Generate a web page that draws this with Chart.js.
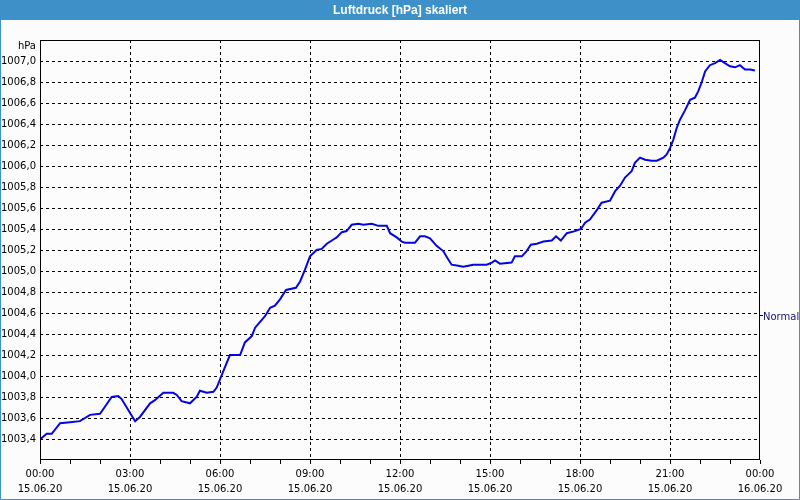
<!DOCTYPE html>
<html><head><meta charset="utf-8">
<script src="https://cdn.jsdelivr.net/npm/chart.js@4.4.0/dist/chart.umd.min.js"></script>
<style>html,body{margin:0;padding:0;background:#fbfcfb;}#wrap{width:800px;height:500px;position:relative}</style>
</head><body><div id="wrap"><canvas id="c" width="800" height="500"></canvas></div>
<script>
const chartTitle = 'Luftdruck [hPa] skaliert';
const unitLabel = 'hPa';
const seriesName = 'Normal';

const xTickHours = [0, 3, 6, 9, 12, 15, 18, 21, 24];
const xTickTimes = ['00:00', '03:00', '06:00', '09:00', '12:00', '15:00', '18:00', '21:00', '00:00'];
const xTickDates = ['15.06.20', '15.06.20', '15.06.20', '15.06.20', '15.06.20', '15.06.20', '15.06.20', '15.06.20', '16.06.20'];
const xMinorHours = [0,1,2,3,4,5,6,7,8,9,10,11,12,13,14,15,16,17,18,19,20,21,22,23,24];

const yTickValues = [1003.4, 1003.6, 1003.8, 1004.0, 1004.2, 1004.4, 1004.6, 1004.8, 1005.0, 1005.2, 1005.4, 1005.6, 1005.8, 1006.0, 1006.2, 1006.4, 1006.6, 1006.8, 1007.0];
const yTickLabels = ['1003,4', '1003,6', '1003,8', '1004,0', '1004,2', '1004,4', '1004,6', '1004,8', '1005,0', '1005,2', '1005,4', '1005,6', '1005,8', '1006,0', '1006,2', '1006,4', '1006,6', '1006,8', '1007,0'];

// time of day (hours since 00:00 15.06.20)
const hours = [
  0.0, 0.06, 0.22, 0.39, 0.67, 1.0, 1.33, 1.67, 2.0, 2.17, 2.39, 2.61, 2.72, 3.17, 3.33, 3.67, 3.83,
  4.11, 4.44, 4.56, 4.72, 5.0, 5.22, 5.33, 5.56, 5.78, 5.89, 6.06, 6.33, 6.67, 6.83, 7.06, 7.17, 7.5,
  7.67, 7.83, 8.0, 8.2, 8.53, 8.67, 8.83, 9.0, 9.22, 9.39, 9.56, 9.78, 9.89, 10.06, 10.22, 10.39, 10.61,
  10.78, 11.06, 11.28, 11.56, 11.67, 11.89, 12.06, 12.17, 12.5, 12.67, 12.83, 13.0, 13.22, 13.44, 13.61,
  13.72, 13.94, 14.11, 14.28, 14.44, 14.89, 15.06, 15.17, 15.33, 15.72, 15.83, 16.06, 16.22, 16.36,
  16.56, 16.78, 17.06, 17.2, 17.36, 17.56, 17.83, 18.03, 18.17, 18.33, 18.56, 18.72, 19.0, 19.17, 19.33,
  19.5, 19.61, 19.72, 19.83, 20.0, 20.17, 20.39, 20.56, 20.78, 20.89, 21.0, 21.11, 21.22, 21.33, 21.5,
  21.67, 21.83, 21.94, 22.06, 22.17, 22.33, 22.5, 22.67, 22.83, 23.0, 23.17, 23.33, 23.5, 23.67, 23.83
];
const pressure = [
  1003.40, 1003.41, 1003.45, 1003.45, 1003.55, 1003.56, 1003.57, 1003.63, 1003.64, 1003.71, 1003.80, 1003.81, 1003.78, 1003.57, 1003.61, 1003.74, 1003.77,
  1003.84, 1003.84, 1003.82, 1003.76, 1003.74, 1003.80, 1003.86, 1003.84, 1003.85, 1003.89, 1004.01, 1004.20, 1004.20, 1004.32, 1004.38, 1004.46, 1004.57,
  1004.65, 1004.67, 1004.73, 1004.82, 1004.84, 1004.90, 1005.01, 1005.14, 1005.20, 1005.21, 1005.26, 1005.30, 1005.32, 1005.37, 1005.38, 1005.44, 1005.45,
  1005.44, 1005.45, 1005.43, 1005.43, 1005.36, 1005.32, 1005.28, 1005.27, 1005.27, 1005.33, 1005.33, 1005.31, 1005.24, 1005.19, 1005.11,
  1005.06, 1005.05, 1005.04, 1005.05, 1005.06, 1005.06, 1005.08, 1005.10, 1005.07, 1005.08, 1005.14, 1005.14, 1005.19, 1005.25,
  1005.26, 1005.28, 1005.29, 1005.33, 1005.29, 1005.36, 1005.38, 1005.40, 1005.46, 1005.49, 1005.58, 1005.65, 1005.67, 1005.76, 1005.81,
  1005.89, 1005.92, 1005.95, 1006.03, 1006.08, 1006.06, 1006.05, 1006.05, 1006.08, 1006.11, 1006.17, 1006.25, 1006.36, 1006.44, 1006.53,
  1006.63, 1006.65, 1006.71, 1006.80, 1006.90, 1006.96, 1006.98, 1007.01, 1006.98, 1006.95, 1006.94, 1006.96, 1006.92, 1006.92, 1006.91
];

const FONT = 'DejaVu Sans';
const frameBlue = '#3d91c8';

const decor = {
  id: 'decor',
  beforeDraw(chart) {
    const ctx = chart.ctx;
    ctx.save();
    ctx.fillStyle = '#fbfcfb';
    ctx.fillRect(0, 0, chart.width, chart.height);
    ctx.fillStyle = frameBlue;
    ctx.fillRect(0, 0, chart.width, 20);
    ctx.strokeStyle = frameBlue;
    ctx.lineWidth = 1;
    ctx.beginPath();
    ctx.moveTo(0.5, 20); ctx.lineTo(0.5, chart.height - 0.5);
    ctx.lineTo(chart.width - 0.5, chart.height - 0.5); ctx.lineTo(chart.width - 0.5, 20);
    ctx.stroke();
    ctx.fillStyle = '#ffffff';
    ctx.font = 'bold 12px "Liberation Sans"';
    ctx.textAlign = 'center';
    ctx.textBaseline = 'middle';
    ctx.fillText(chartTitle, chart.width / 2, 10.5);
    ctx.restore();
  },
  afterDraw(chart) {
    const ctx = chart.ctx;
    const a = chart.chartArea;
    ctx.save();
    ctx.strokeStyle = '#000';
    ctx.lineWidth = 1;
    ctx.strokeRect(Math.round(a.left) + 0.5, Math.round(a.top) + 0.5, Math.round(a.right - a.left) - 1, Math.round(a.bottom - a.top) - 1);
    ctx.fillStyle = '#000';
    ctx.font = '10px "' + FONT + '"';
    ctx.textAlign = 'right';
    ctx.textBaseline = 'middle';
    ctx.fillText(unitLabel, a.left - 4, a.top + 6);
    // series label on the right
    const yPos = chart.scales.y.getPixelForValue(1004.58);
    ctx.strokeStyle = '#000';
    ctx.beginPath();
    ctx.moveTo(a.right, Math.round(yPos) + 0.5); ctx.lineTo(a.right + 3, Math.round(yPos) + 0.5);
    ctx.stroke();
    ctx.fillStyle = '#14146e';
    ctx.textAlign = 'left';
    ctx.fillText(seriesName, a.right + 3, yPos + 2);
    ctx.restore();
  }
};

new Chart(document.getElementById('c'), {
  type: 'line',
  data: {
    datasets: [{
      label: seriesName,
      data: hours.map((h, i) => ({ x: h, y: pressure[i] })),
      borderColor: '#0505e0',
      borderWidth: 2,
      pointRadius: 0,
      tension: 0,
      fill: false
    }]
  },
  options: {
    responsive: false,
    animation: false,
    devicePixelRatio: 1,
    layout: { padding: { top: 40, right: 40, left: 0, bottom: 0 } },
    plugins: { legend: { display: false }, tooltip: { enabled: false }, title: { display: false } },
    scales: {
      x: {
        type: 'linear', min: 0, max: 24,
        afterBuildTicks: s => { s.ticks = xMinorHours.map(v => ({ value: v })); },
        afterFit: s => { s.height = 40; },
        ticks: {
          autoSkip: false, maxRotation: 0, minRotation: 0, padding: 3, color: '#000',
          font: { family: FONT, size: 10, lineHeight: 1.5 },
          callback: v => { const i = xTickHours.indexOf(v); return i >= 0 ? [xTickTimes[i], xTickDates[i]] : ''; }
        },
        grid: {
          color: c => (c.tick && c.tick.value % 3 === 0 && c.tick.value > 0 && c.tick.value < 24) ? '#000' : 'rgba(0,0,0,0)',
          tickColor: '#000', tickLength: 4, lineWidth: 1, tickBorderDash: []
        },
        border: { display: false, dash: [3, 3] }
      },
      y: {
        min: 1003.2, max: 1007.2,
        afterBuildTicks: s => { s.ticks = yTickValues.map(v => ({ value: v })); },
        afterFit: s => { s.width = 40; },
        ticks: {
          padding: 4, color: '#000',
          font: { family: FONT, size: 10 },
          callback: (v, i) => yTickLabels[i]
        },
        grid: { drawTicks: false, color: '#000', lineWidth: 1 },
        border: { display: false, dash: [3, 3] }
      }
    }
  },
  plugins: [decor]
});
</script>
</body></html>
